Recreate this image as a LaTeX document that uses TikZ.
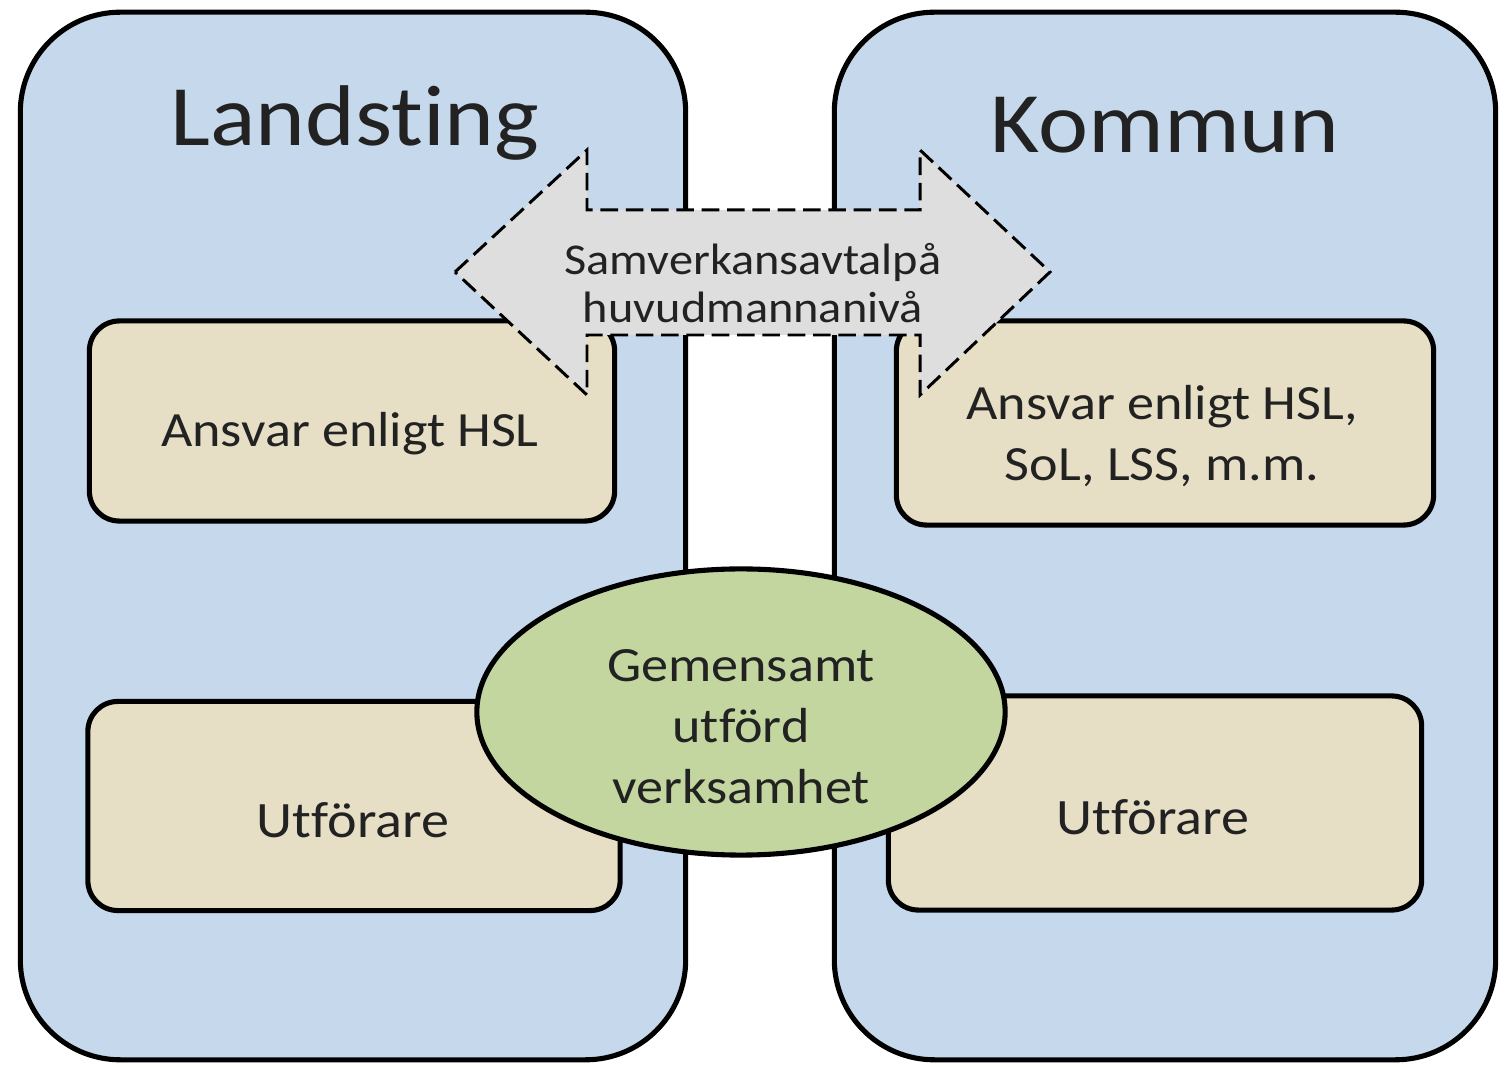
\documentclass[tikz,border=0pt]{standalone}
\usepackage{fontspec}
\setmainfont[FakeStretch=1.1, Ligatures=NoCommon]{Carlito}
\usetikzlibrary{shapes.geometric}
\definecolor{panelblue}{HTML}{C6D8EB}
\definecolor{boxbeige}{HTML}{E6DFC6}
\definecolor{jointgreen}{HTML}{C3D69F}
\definecolor{arrowgrey}{HTML}{DEDEDE}
\definecolor{inkgrey}{HTML}{222222}
\begin{document}
\begin{tikzpicture}[x=0.01cm, y=-0.01cm, line width=1.45pt, every node/.style={inner sep=0pt, align=center, text=inkgrey},
  panel/.style={draw=black, fill=panelblue, rectangle, rounded corners=1cm},
  duty/.style={draw=black, fill=boxbeige, rectangle, rounded corners=0.3cm},
  joint/.style={draw=black, fill=jointgreen, ellipse},
  agreement/.style={draw=black, fill=arrowgrey, line width=0.85pt, dash pattern=on 5pt off 2.2pt},
  title/.style={font=\fontsize{24.5}{28}\selectfont},
  label14/.style={font=\fontsize{14}{17.4}\selectfont}]

\useasboundingbox (0,0) rectangle (1508,1067);

% the two principals
\node[panel, minimum width=6.65cm, minimum height=10.47cm] (landsting) at (353,536) {};
\node[panel, minimum width=6.61cm, minimum height=10.47cm] (kommun) at (1165,536) {};
\node[title] (landstingTitle) at (355,123) {Landsting};
\node[title] (kommunTitle) at (1165,125) {Kommun};

% responsibilities and providers
\node[duty, minimum width=5.25cm, minimum height=2cm] (lAnsvar) at (352,421) {};
\node[duty, minimum width=5.37cm, minimum height=2.04cm] (kAnsvar) at (1165,423) {};
\node[duty, minimum width=5.32cm, minimum height=2.09cm] (lUtf) at (354,806) {};
\node[duty, minimum width=5.33cm, minimum height=2.14cm] (kUtf) at (1155,803) {};
\node[label14] (lAnsvarText) at (350,434) {Ansvar enligt HSL};
\node[label14] (kAnsvarText) at (1162,436) {Ansvar enligt HSL,\\SoL, LSS, m.m.};
\node[label14, font=\fontsize{14.5}{17.4}\selectfont] (lUtfText) at (353,820) {Utförare};
\node[label14, font=\fontsize{14.5}{17.4}\selectfont] (kUtfText) at (1153,817) {Utförare};

% joint activity
\node[joint, minimum width=5.28cm, minimum height=2.86cm] (joint) at (741,712) {};
\node[label14] (jointText) at (741,727) {Gemensamt\\utförd\\verksamhet};

% agreement arrow
\draw[agreement] (455,272) -- (587,150) -- (587,210) -- (920,210) -- (920,150) -- (1050,272)
   -- (920,395) -- (920,335) -- (587,335) -- (587,395) -- cycle;
\node[font=\fontsize{12.5}{13.6}\selectfont] (avtal) at (753,283) {Samverkansavtalpå\\huvudmannanivå};

\end{tikzpicture}
\end{document}
